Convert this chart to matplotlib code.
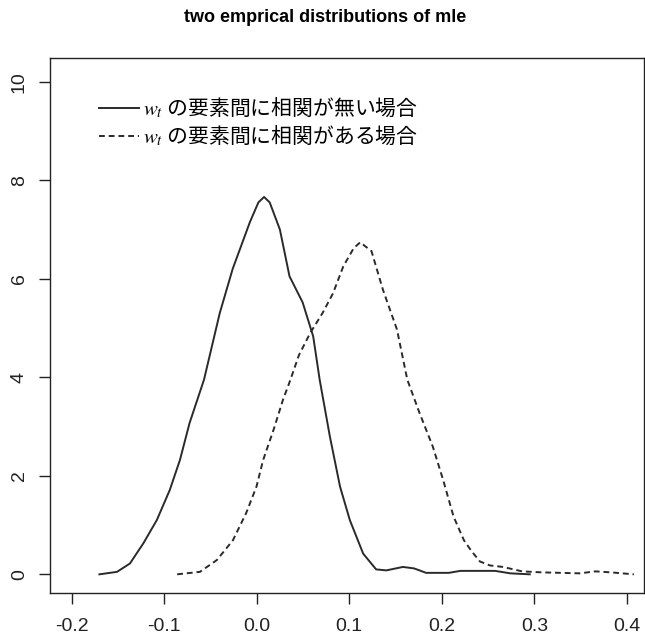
import numpy as np
import matplotlib.pyplot as plt

plt.rcParams['font.family'] = ['Liberation Sans', 'DejaVu Sans']
plt.rcParams['mathtext.fontset'] = 'stix'

# density of mle, elements of w_t uncorrelated
x_uncor = [-0.170, -0.151, -0.137, -0.1225, -0.108, -0.094, -0.083, -0.0726,
           -0.057, -0.040, -0.026, -0.0074, 0.0018, 0.0079, 0.014, 0.025,
           0.0354, 0.0496, 0.061, 0.068, 0.079, 0.090, 0.1006, 0.115, 0.129,
           0.140, 0.158, 0.170, 0.183, 0.2075, 0.22, 0.2575, 0.274, 0.295]
y_uncor = [0.0, 0.05, 0.22, 0.63, 1.10, 1.71, 2.32, 3.07,
           3.95, 5.30, 6.20, 7.15, 7.55, 7.66, 7.55, 7.00,
           6.05, 5.52, 4.83, 3.95, 2.80, 1.78, 1.10, 0.42, 0.10,
           0.08, 0.15, 0.12, 0.03, 0.03, 0.07, 0.07, 0.02, 0.0]

# density of mle, elements of w_t correlated
x_cor = [-0.086, -0.0614, -0.0431, -0.0258, -0.0115, -0.0003, 0.0069, 0.0181,
         0.0283, 0.0364, 0.0456, 0.0578, 0.071, 0.0823, 0.0935, 0.1047, 0.1118,
         0.124, 0.1363, 0.1515, 0.1627, 0.176, 0.1903, 0.2015, 0.2127, 0.2239,
         0.2325, 0.2412, 0.252, 0.266, 0.2867, 0.3075, 0.349, 0.366, 0.3825, 0.4075]
y_cor = [0.0, 0.05, 0.29, 0.69, 1.24, 1.78, 2.32, 2.93,
         3.54, 3.95, 4.45, 4.90, 5.30, 5.70, 6.25, 6.62, 6.74,
         6.56, 5.78, 4.97, 3.95, 3.27, 2.59, 1.91, 1.17, 0.69,
         0.46, 0.26, 0.18, 0.15, 0.06, 0.04, 0.02, 0.06, 0.04, 0.0]

labels = ['$w_t$ の要素間に相関が無い場合', '$w_t$ の要素間に相関がある場合']
xticks = [-0.2, -0.1, 0.0, 0.1, 0.2, 0.3, 0.4]
yticks = [0, 2, 4, 6, 8, 10]

fig = plt.figure(figsize=(6.45, 6.38), dpi=100)
ax = fig.add_axes([0.0775, 0.0700, 0.9209, 0.8390])

ax.plot(x_uncor, y_uncor, color='#2a2a2a', lw=1.4, label=labels[0])
ax.plot(x_cor, y_cor, color='#2a2a2a', lw=1.4, dashes=(3, 2), label=labels[1])

ax.set_xlim(-0.2234, 0.4184)
ax.set_ylim(-0.386, 10.48)
ax.set_xticks(xticks)
ax.set_xticklabels(['%.1f' % v for v in xticks])
ax.set_yticks(yticks)
ax.set_yticklabels([str(v) for v in yticks], rotation=90, va='center')
ax.tick_params(direction='out', length=8, width=1, labelsize=14, pad=8,
               colors='#222222')
ax.tick_params(axis='x', pad=10)
for s in ax.spines.values():
    s.set_linewidth(1)
    s.set_color('#222222')

leg = ax.legend(loc='upper left', bbox_to_anchor=(0.058, 0.958), frameon=False,
                handlelength=1.9, handletextpad=0.2, labelspacing=0.12,
                borderaxespad=0.3,
                prop={'family': ['Noto Sans CJK JP', 'DejaVu Sans'], 'size': 15})

fig.text(325 / 645, 1 - 18 / 638, 'two emprical distributions of mle',
         ha='center', va='center', fontsize=13, fontweight='bold')

fig.savefig('out.png', dpi=100)
